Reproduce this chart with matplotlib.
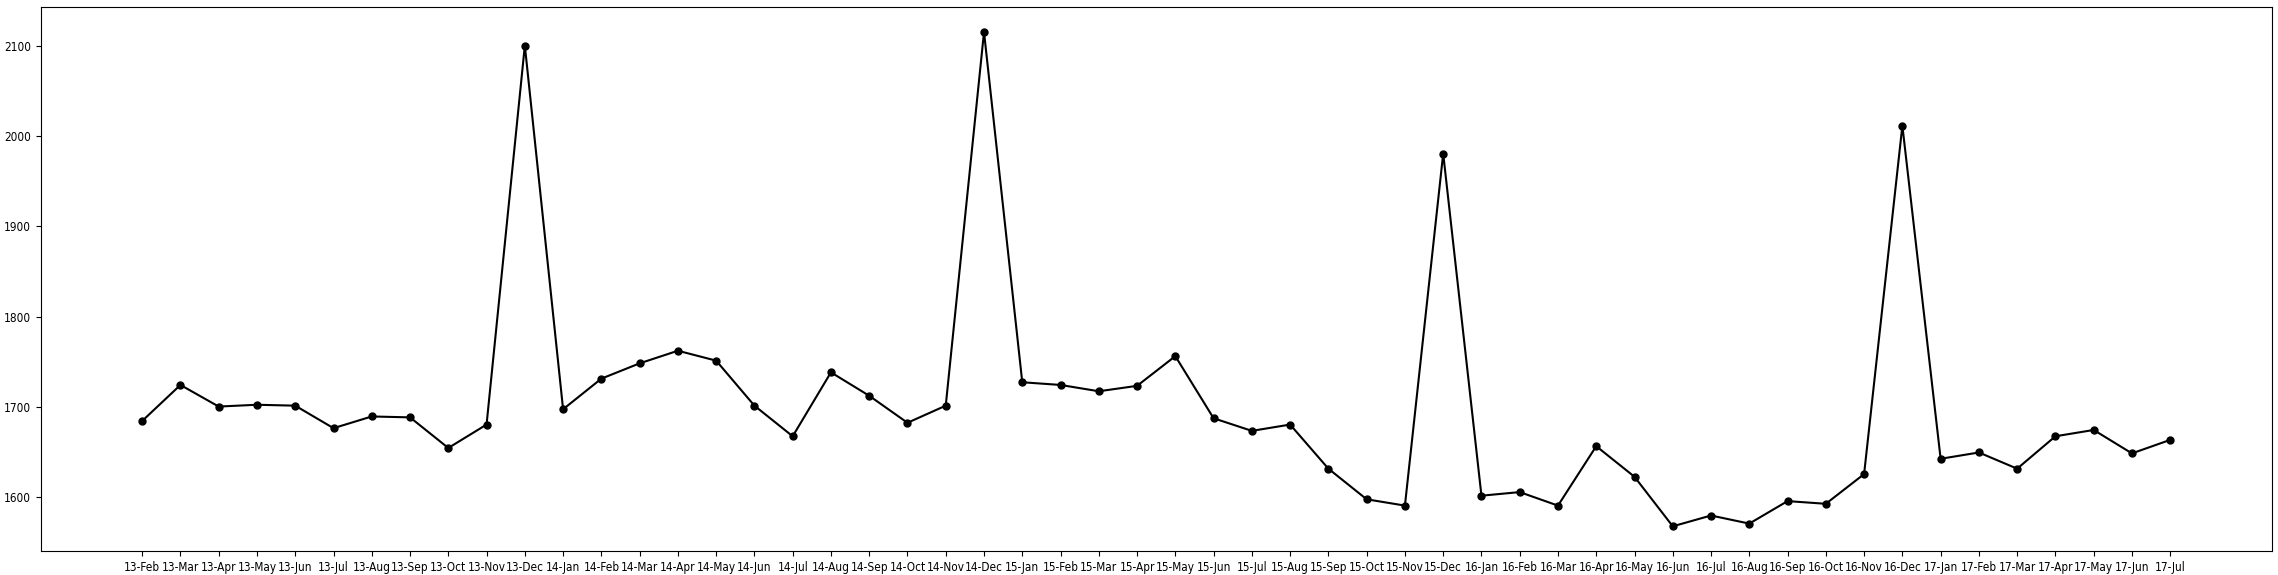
import matplotlib
matplotlib.use("Agg")
import matplotlib.pyplot as plt

# monthly values, Feb 2013 - Jul 2017
months = [
    "13-Feb", "13-Mar", "13-Apr", "13-May", "13-Jun", "13-Jul", "13-Aug", "13-Sep", "13-Oct", "13-Nov", "13-Dec",
    "14-Jan", "14-Feb", "14-Mar", "14-Apr", "14-May", "14-Jun", "14-Jul", "14-Aug", "14-Sep", "14-Oct", "14-Nov", "14-Dec",
    "15-Jan", "15-Feb", "15-Mar", "15-Apr", "15-May", "15-Jun", "15-Jul", "15-Aug", "15-Sep", "15-Oct", "15-Nov", "15-Dec",
    "16-Jan", "16-Feb", "16-Mar", "16-Apr", "16-May", "16-Jun", "16-Jul", "16-Aug", "16-Sep", "16-Oct", "16-Nov", "16-Dec",
    "17-Jan", "17-Feb", "17-Mar", "17-Apr", "17-May", "17-Jun", "17-Jul",
]
values = [
    1684, 1724, 1700, 1702, 1701, 1676, 1689, 1688, 1654, 1680, 2101,
    1697, 1731, 1748, 1762, 1751, 1701, 1667, 1738, 1712, 1682, 1701, 2116,
    1727, 1724, 1717, 1723, 1756, 1687, 1673, 1680, 1631, 1597, 1590, 1981,
    1601, 1605, 1590, 1656, 1622, 1567, 1579, 1570, 1595, 1592, 1625, 2012,
    1642, 1649, 1631, 1667, 1674, 1648, 1663,
]

plt.rcParams['font.family'] = ['DejaVu Sans']
plt.rcParams['font.stretch'] = 'condensed'

fig = plt.figure(figsize=(22.78, 5.75), dpi=100)
ax = fig.add_axes([0.0179, 0.0417, 0.9793, 0.9456])

x = list(range(len(months)))
ax.plot(x, values, color='black', marker='o', markersize=5, linewidth=1.5)
ax.set_xticks(x)
ax.set_xticklabels(months, fontsize=8.5)
ax.set_yticks([1600, 1700, 1800, 1900, 2000, 2100])
ax.tick_params(axis='y', labelsize=8.5)

fig.savefig('out.png', dpi=100)
